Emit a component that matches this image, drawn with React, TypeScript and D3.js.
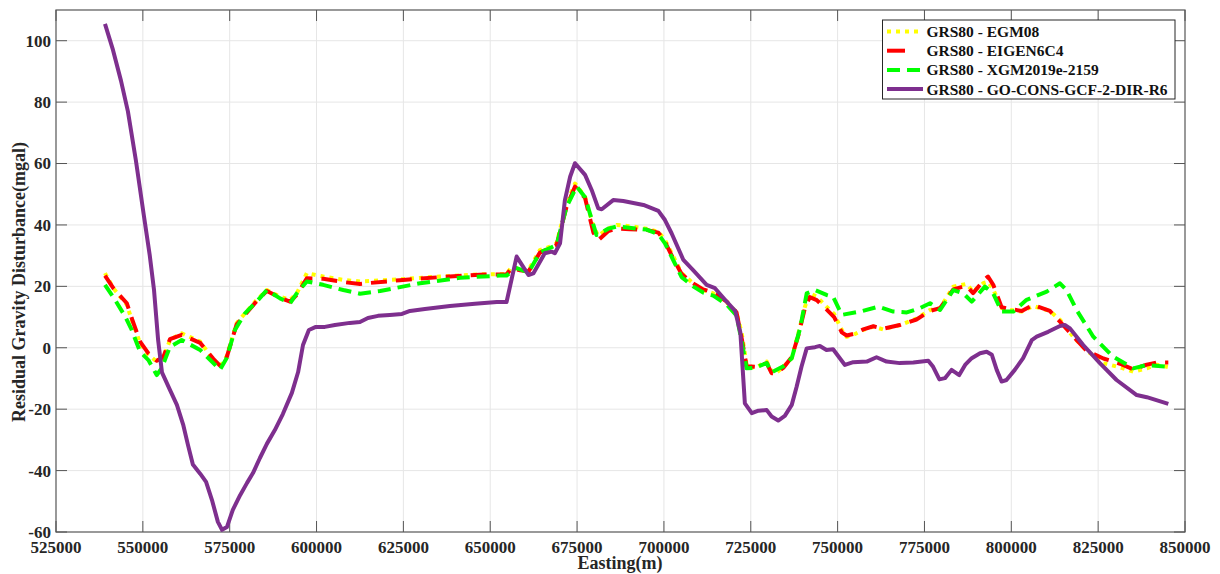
import React from "react";
import * as d3 from "d3";

// series: [easting (m), residual gravity disturbance (mgal)]
const egm08: [number, number][] = [
  [539100, 24.3], [541500, 19.4], [545400, 14.0], [546800, 9.1], [549200, 1.5], [551600, -2.3],
  [554000, -4.5], [555900, -3.4], [557800, 2.5], [561200, 4.7], [566500, 2.0], [570300, -4.0],
  [572200, -6.2], [574100, -2.9], [577000, 8.0], [579400, 11.2], [582800, 15.6], [585700, 18.8],
  [589500, 16.6], [592400, 15.6], [594300, 17.7], [597200, 24.3], [601900, 23.2], [607700, 22.1],
  [612500, 21.6], [624000, 22.3], [635500, 23.2], [647000, 23.9], [654700, 24.0], [656200, 26.4],
  [658600, 25.5], [661000, 25.3], [664300, 31.8], [667200, 32.9], [669100, 34.0], [672000, 47.0],
  [674400, 53.5], [677300, 49.2], [679700, 39.4], [681100, 36.5], [684000, 38.8], [686400, 40.0],
  [690200, 39.6], [695000, 38.8], [698400, 37.8], [700300, 35.1], [702700, 29.7], [705100, 24.3],
  [708400, 21.0], [711300, 18.8], [714200, 17.7], [718100, 14.8], [720900, 11.5], [722400, 4.7],
  [723800, -5.6], [726200, -6.7], [729600, -4.5], [731000, -7.8], [732400, -8.1], [734400, -6.2],
  [736800, -3.4], [738700, 4.7], [740600, 13.4], [742000, 17.7], [744000, 16.6], [746800, 13.4],
  [749000, 11.0], [751200, 5.8], [752600, 3.6], [754500, 4.2], [757400, 5.8], [760300, 6.9],
  [763100, 6.0], [767900, 7.4], [772700, 9.5], [776600, 12.3], [779500, 12.9], [783300, 19.9],
  [787100, 20.8], [789000, 18.3], [791900, 21.0], [793300, 21.5], [794800, 19.0], [797200, 12.9],
  [799600, 12.3], [803000, 11.8], [806300, 13.6], [811100, 12.0], [814000, 9.1], [817800, 3.6],
  [821700, -0.9], [826500, -5.0], [831300, -6.4], [835100, -7.8], [839000, -6.7], [841900, -5.5],
  [845200, -6.3],
];

const eigen6c4: [number, number][] = [
  [539100, 23.5], [541500, 19.4], [545400, 14.5], [546800, 9.6], [549200, 2.0], [551600, -1.8],
  [554000, -4.2], [555900, -3.0], [557800, 2.8], [561200, 4.2], [566500, 1.6], [570300, -3.6],
  [572200, -5.8], [574100, -3.2], [577000, 7.6], [579400, 10.8], [582800, 15.2], [585700, 18.5],
  [589500, 16.3], [592400, 15.0], [594300, 17.2], [597200, 22.6], [601900, 22.5], [607700, 21.4],
  [612500, 20.8], [624000, 22.0], [635500, 23.0], [647000, 23.8], [654700, 23.9], [656200, 26.0],
  [658600, 25.2], [661000, 24.8], [664300, 31.0], [667200, 32.5], [669100, 33.5], [672000, 46.0],
  [674400, 52.5], [677300, 48.8], [679700, 37.5], [681100, 35.0], [684000, 38.0], [686400, 38.8],
  [690200, 38.6], [695000, 38.4], [698400, 37.5], [700300, 34.5], [702700, 29.0], [705100, 24.0],
  [708400, 21.0], [711300, 19.0], [714200, 18.0], [718100, 15.0], [720900, 11.5], [722400, 3.0],
  [723800, -6.0], [726200, -6.2], [729600, -5.0], [731000, -8.3], [732400, -8.2], [734400, -6.5],
  [736800, -3.0], [738700, 4.0], [740600, 13.0], [742000, 16.5], [744000, 15.5], [746800, 12.5],
  [749000, 10.0], [751200, 5.0], [752600, 4.0], [754500, 4.5], [757400, 6.0], [760300, 7.0],
  [763100, 6.2], [767900, 7.4], [772700, 9.2], [776600, 12.0], [779500, 12.9], [783300, 19.0],
  [787100, 20.2], [789000, 17.8], [791900, 21.8], [793300, 23.2], [794800, 20.5], [797200, 13.2],
  [799600, 12.6], [803000, 12.0], [806300, 14.0], [811100, 12.0], [814000, 8.5], [817800, 3.8],
  [821700, -1.0], [826500, -3.5], [831300, -5.2], [835100, -7.0], [839000, -5.5], [841900, -4.8],
  [845200, -4.8],
];

const xgm2019e: [number, number][] = [
  [539100, 20.5], [542000, 15.6], [544900, 10.2], [546800, 5.8], [549200, -1.3], [551600, -4.0],
  [554000, -8.9], [555400, -6.7], [557800, 0.3], [561200, 2.5], [566500, -0.7], [570300, -5.0],
  [572200, -7.2], [574100, -3.4], [576500, 5.8], [579400, 11.2], [583200, 15.6], [585700, 18.8],
  [589500, 16.1], [592400, 14.5], [594300, 17.7], [597200, 21.6], [601900, 20.5], [607700, 18.8],
  [612500, 17.6], [618300, 18.5], [629800, 21.0], [641300, 22.8], [652800, 23.5], [654700, 23.5],
  [657400, 26.0], [661000, 24.5], [664300, 31.0], [667200, 32.5], [669100, 33.5], [672000, 46.0],
  [674900, 52.5], [677300, 49.0], [679700, 40.0], [680600, 36.7], [684000, 38.8], [686400, 39.5],
  [695000, 38.5], [698400, 37.0], [700300, 34.0], [702700, 28.5], [705100, 23.0], [708400, 20.0],
  [711300, 18.0], [714200, 17.0], [718100, 14.0], [720900, 10.5], [722400, 2.0], [723800, -6.7],
  [726200, -6.5], [729600, -5.0], [731000, -8.0], [734400, -6.0], [736800, -3.4], [739200, 6.3],
  [741100, 17.7], [743500, 18.8], [746800, 17.2], [748700, 16.6], [751200, 10.7], [756500, 11.8],
  [761800, 13.4], [766000, 11.8], [769900, 11.5], [773700, 12.9], [776600, 14.5], [779500, 12.3],
  [783300, 18.8], [786200, 17.7], [788600, 15.0], [792400, 19.9], [794800, 17.7], [797200, 11.8],
  [800600, 11.8], [804400, 15.6], [810200, 18.3], [814000, 21.0], [815900, 18.8], [818800, 12.3],
  [823600, 3.6], [829300, -2.9], [835100, -6.7], [839000, -5.6], [845200, -6.2],
];

const goCons: [number, number][] = [
  [539100, 105.5], [541400, 97], [543700, 87], [545700, 77], [548000, 61], [550300, 43],
  [552000, 30], [553200, 19], [554400, 2.5], [555500, -8], [557800, -13.7], [559800, -18.6],
  [561600, -25], [563000, -31.7], [564400, -38], [566500, -41], [568200, -43.7], [569900, -49.6],
  [571600, -56.7], [572800, -59.3], [574200, -58.4], [575900, -52.8], [578000, -48], [580000, -44],
  [581700, -40.8], [583700, -35.9], [585700, -31.3], [588000, -26.8], [590300, -21.6], [592900, -14.7],
  [594700, -7.9], [596100, 0.9], [597800, 5.8], [599800, 6.8], [602400, 6.8], [605300, 7.4],
  [609600, 8.1], [612500, 8.4], [614800, 9.7], [617700, 10.4], [621100, 10.7], [624600, 11.0],
  [626900, 12.0], [631200, 12.6], [638400, 13.6], [645600, 14.3], [651900, 14.9], [654700, 14.9],
  [657600, 29.7], [661000, 23.7], [662400, 24.2], [665700, 30.8], [667700, 31.3], [668600, 30.8],
  [670100, 34.0], [671500, 48.1], [673000, 55.7], [674400, 60.1], [677300, 56.3], [679200, 51.4],
  [681100, 45.4], [682100, 45.1], [685400, 48.1], [688300, 47.8], [694100, 46.5], [698400, 44.6],
  [700300, 41.6], [702200, 37.3], [705600, 28.6], [708400, 25.3], [712300, 20.5], [714700, 19.4],
  [718100, 15.0], [720500, 12.0], [722000, 5.0], [723300, -18.1], [725300, -21.3], [727200, -20.5],
  [729600, -20.3], [731000, -22.4], [732900, -23.7], [734800, -22.2], [736800, -18.6], [738200, -12.7],
  [739600, -6.2], [741100, -0.2], [743500, 0.2], [744900, 0.6], [746800, -0.7], [748700, -0.5],
  [752100, -5.6], [754500, -4.7], [758400, -4.5], [761200, -3.1], [764100, -4.5], [767900, -5.0],
  [771800, -4.8], [776100, -4.2], [777500, -6.2], [779300, -10.3], [780900, -9.9], [782800, -7.2],
  [785000, -8.9], [786700, -5.6], [788600, -3.4], [791000, -1.8], [792900, -1.3], [794400, -2.3],
  [795800, -7.2], [797200, -11.0], [798600, -10.5], [801000, -7.2], [803400, -3.4], [805900, 2.5],
  [807300, 3.6], [810600, 5.2], [814000, 7.1], [815400, 7.4], [816900, 6.3], [820700, 0.9],
  [825500, -5.0], [830300, -10.5], [836100, -15.4], [839000, -16.1], [845200, -18.3],
];

const seriesNames = [
  "GRS80 - EGM08",
  "GRS80 - EIGEN6C4",
  "GRS80 - XGM2019e-2159",
  "GRS80 - GO-CONS-GCF-2-DIR-R6",
];

const xTicks = d3.range(525000, 850001, 25000);
const yTicks = d3.range(-60, 101, 20);

const W = 1220;
const H = 574;
const left = 56, right = 1185, top = 10, bottom = 532;
const font = "'Liberation Serif', 'Times New Roman', serif";

const styles = [
  { color: "#FFFF00", dash: "4,5", width: 4 },
  { color: "#FF0000", dash: "16,9", width: 4 },
  { color: "#00FF00", dash: "13,7", width: 4 },
  { color: "#7E2F8E", dash: "", width: 4 },
];

export default function App() {
  const x = d3.scaleLinear().domain([525000, 850000]).range([left, right]);
  const y = d3.scaleLinear().domain([-60, 110]).range([bottom, top]);
  const line = d3.line<[number, number]>().x(d => x(d[0])).y(d => y(d[1]));
  const all = [egm08, eigen6c4, xgm2019e, goCons];

  return (
    <svg width={W} height={H} style={{ position: "absolute", left: 0, top: 0, background: "#fff" }}>
      <rect x={0} y={0} width={W} height={H} fill="#fff" />
      {/* grid */}
      {xTicks.slice(1, -1).map(t => (
        <line key={"gx" + t} x1={x(t)} x2={x(t)} y1={top} y2={bottom} stroke="#e6e6e6" strokeWidth={1} />
      ))}
      {yTicks.slice(1).map(t => (
        <line key={"gy" + t} x1={left} x2={right} y1={y(t)} y2={y(t)} stroke="#e6e6e6" strokeWidth={1} />
      ))}
      {/* ticks */}
      {xTicks.map(t => (
        <g key={"tx" + t}>
          <line x1={x(t)} x2={x(t)} y1={bottom} y2={bottom - 11} stroke="#555" />
          <line x1={x(t)} x2={x(t)} y1={top} y2={top + 11} stroke="#555" />
          <text x={x(t)} y={553} textAnchor="middle" fontFamily={font} fontWeight="bold" fontSize={17} fill="#262626">
            {t}
          </text>
        </g>
      ))}
      {yTicks.map(t => (
        <g key={"ty" + t}>
          <line x1={left} x2={left + 11} y1={y(t)} y2={y(t)} stroke="#555" />
          <line x1={right} x2={right - 11} y1={y(t)} y2={y(t)} stroke="#555" />
          <text x={51} y={y(t)} dy="0.35em" textAnchor="end" fontFamily={font} fontWeight="bold" fontSize={17} fill="#262626">
            {t}
          </text>
        </g>
      ))}
      <rect x={left} y={top} width={right - left} height={bottom - top} fill="none" stroke="#555" strokeWidth={1.2} />
      {/* lines */}
      {all.map((s, i) => (
        <path
          key={"s" + i}
          d={line(s) ?? ""}
          fill="none"
          stroke={styles[i].color}
          strokeWidth={styles[i].width}
          strokeDasharray={styles[i].dash || undefined}
          strokeLinejoin="round"
        />
      ))}
      {/* axis labels */}
      <text x={620} y={569} textAnchor="middle" fontFamily={font} fontWeight="bold" fontSize={18} fill="#262626">
        Easting(m)
      </text>
      <text
        transform="translate(25,282) rotate(-90)"
        textAnchor="middle"
        fontFamily={font}
        fontWeight="bold"
        fontSize={18}
        fill="#262626"
      >
        Residual Gravity Disturbance(mgal)
      </text>
      {/* legend */}
      <rect x={882.5} y={20} width={292.5} height={79} fill="#fff" stroke="#262626" strokeWidth={1} />
      {seriesNames.map((n, i) => {
        const ly = 31.5 + i * 19.2;
        return (
          <g key={"lg" + i}>
            <line
              x1={887}
              x2={i === 1 ? 905 : 923}
              y1={ly}
              y2={ly}
              stroke={styles[i].color}
              strokeWidth={styles[i].width}
              strokeDasharray={i === 1 ? undefined : styles[i].dash || undefined}
            />
            <text x={926.5} y={ly} dy="0.35em" fontFamily={font} fontWeight="bold" fontSize={15.5} fill="#111">
              {n}
            </text>
          </g>
        );
      })}
    </svg>
  );
}
